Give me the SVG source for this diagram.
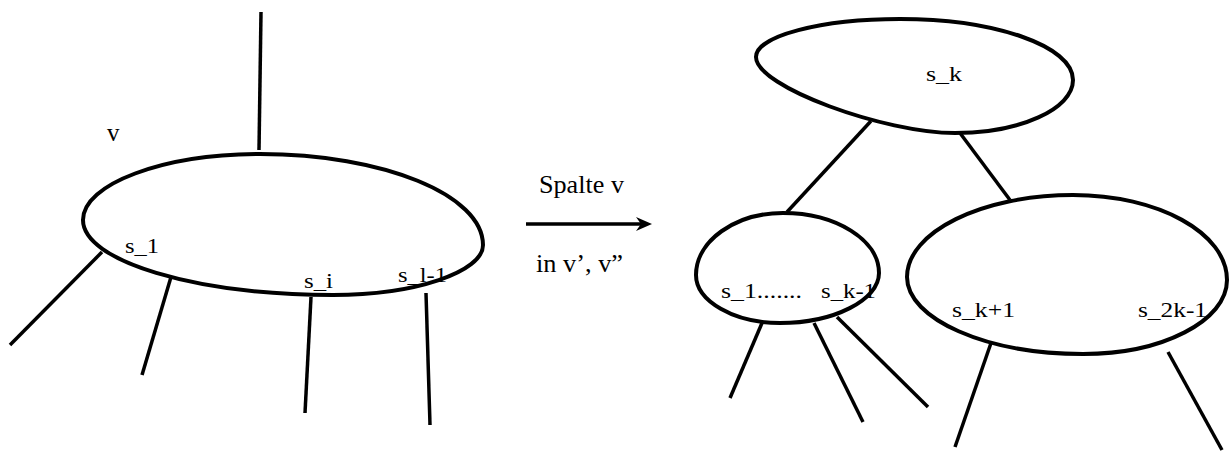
<svg xmlns="http://www.w3.org/2000/svg" width="1230" height="452" viewBox="0 0 1230 452">
<style>
.node{fill:none;stroke:#000;stroke-width:4}
.edge{stroke:#000;stroke-width:3.5;fill:none;stroke-linecap:butt}
.lbl{font-size:22px;fill:#000}
.big{font-size:25px;fill:#000}
</style>
<rect width="1230" height="452" fill="#fff"/>
<g id="connectors">
<line class="edge" x1="261" y1="12" x2="259" y2="150"/>
<line class="edge" x1="102" y1="252" x2="10" y2="345"/>
<line class="edge" x1="171" y1="277" x2="142" y2="375"/>
<line class="edge" x1="311" y1="297" x2="305" y2="413"/>
<line class="edge" x1="426" y1="293" x2="430" y2="425"/>
<line class="edge" x1="871" y1="121" x2="787" y2="212"/>
<line class="edge" x1="960" y1="133" x2="1010" y2="200"/>
<line class="edge" x1="762" y1="323" x2="730" y2="398"/>
<line class="edge" x1="814" y1="323" x2="863" y2="422"/>
<line class="edge" x1="837" y1="317" x2="928" y2="407"/>
<line class="edge" x1="991" y1="343" x2="955" y2="447"/>
<line class="edge" x1="1168" y1="352" x2="1222" y2="450"/>
<g id="split-arrow" font-family="Liberation Serif, serif">
<line class="edge" x1="526" y1="224" x2="642" y2="224"/>
<path d="M652,224 L636,217 L641,224 L636,231 Z" fill="#000"/>
<text class="big" x="539" y="193" textLength="85" lengthAdjust="spacingAndGlyphs">Spalte v</text>
<text class="big" x="536" y="272" textLength="87" lengthAdjust="spacingAndGlyphs">in v’, v”</text>
</g>
</g>
<g id="node-v" font-family="Liberation Serif, serif">
<path class="node" d="M83,220 C83,184 163,154 260,154 C383,154 483,195 483,245 C483,272 415,295 333,295 C195,295 83,261 83,220 Z"/>
<text class="big" x="107" y="141">v</text>
<text class="lbl" x="125" y="253" textLength="34" lengthAdjust="spacingAndGlyphs">s_1</text>
<text class="lbl" x="304" y="288" textLength="29" lengthAdjust="spacingAndGlyphs">s_i</text>
<text class="lbl" x="398" y="282" textLength="49" lengthAdjust="spacingAndGlyphs">s_l-1</text>
</g>
<g id="node-root" font-family="Liberation Serif, serif">
<path class="node" d="M756,57 C756,36 821,19 900,19 C995,19 1073,46 1073,80 C1073,109 1020,133 955,133 C885,133 756,87 756,57 Z"/>
<text class="lbl" x="926" y="81" textLength="36" lengthAdjust="spacingAndGlyphs">s_k</text>
</g>
<g id="node-v1" font-family="Liberation Serif, serif">
<path class="node" d="M696,275 C696,241 735,213 783,213 C836,213 879,240 879,273 C879,300 834,323 780,323 C734,323 696,301 696,275 Z"/>
<text class="lbl" x="721" y="298" textLength="81" lengthAdjust="spacingAndGlyphs">s_1.......</text>
<text class="lbl" x="821" y="298" textLength="55" lengthAdjust="spacingAndGlyphs">s_k-1</text>
</g>
<g id="node-v2" font-family="Liberation Serif, serif">
<path class="node" d="M907,277 C907,232 982,195 1073,195 C1158,195 1227,233 1227,280 C1227,321 1162,354 1083,354 C986,354 907,319 907,277 Z"/>
<text class="lbl" x="952" y="317" textLength="63" lengthAdjust="spacingAndGlyphs">s_k+1</text>
<text class="lbl" x="1138" y="317" textLength="69" lengthAdjust="spacingAndGlyphs">s_2k-1</text>
</g>
</svg>
